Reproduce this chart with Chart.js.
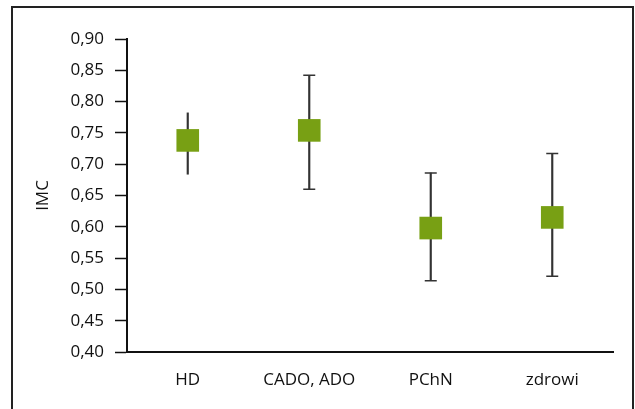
<!DOCTYPE html>
<html>
<head>
<meta charset="utf-8">
<script src="https://cdn.jsdelivr.net/npm/chart.js@4"></script>
<style>
  body { margin: 0; background: #fff; }
  #wrap { position: relative; width: 635px; height: 409px; overflow: hidden; }
  #frame { position: absolute; left: 11px; top: 6px; width: 619px; height: 420px;
           border: 2px solid #222; border-bottom: none; pointer-events: none; }
  canvas { position: absolute; left: 0; top: 0; }
</style>
</head>
<body>
<div id="wrap">
  <canvas id="chart" width="635" height="409"></canvas>
  <div id="frame"></div>
</div>
<script>
const categories = ["HD", "CADO, ADO", "PChN", "zdrowi"];
const means = [0.738, 0.754, 0.598, 0.615];
const lower = [0.684, 0.660, 0.514, 0.521];
const upper = [0.782, 0.842, 0.686, 0.717];
const hasCaps = [false, true, true, true];

const font = { family: "'Open Sans', sans-serif", size: 17 };
const ink = "#111";

//whisker ranges as thin floating bars
const ranges = lower.map((lo, i) => [lo, upper[i]]);
const capTop = upper.map((v, i) => (hasCaps[i] ? v : null));
const capBottom = lower.map((v, i) => (hasCaps[i] ? v : null));

const capStyle = {
    type: "line",
    showLine: false,
    pointStyle: "line",
    pointRadius: 6,
    pointBorderWidth: 1.5,
    pointBorderColor: "#333",
    order: 1,
};

new Chart(document.getElementById("chart"), {
    type: "bar",
    data: {
        labels: categories,
        datasets: [
            {
                data: ranges,
                backgroundColor: "#333",
                barThickness: 1.5,
                order: 2,
            },
            { ...capStyle, data: capTop },
            { ...capStyle, data: capBottom },
            {
                type: "line",
                data: means,
                showLine: false,
                pointStyle: "rect",
                pointRadius: 16,
                pointBorderWidth: 0,
                pointBackgroundColor: "#78a014",
                order: 0,
            },
        ],
    },
    options: {
        responsive: false,
        animation: false,
        layout: { padding: { left: 0, right: 22, top: 39, bottom: 0 } },
        plugins: { legend: { display: false }, tooltip: { enabled: false } },
        scales: {
            x: {
                afterFit: (scale) => {
                    scale.height = 57;
                },
                grid: { display: false },
                border: { display: true, color: ink, width: 2 },
                ticks: { color: ink, font: font, padding: 10 },
            },
            y: {
                min: 0.4,
                max: 0.9,
                afterFit: (scale) => {
                    scale.width = 127;
                },
                grid: {
                    drawOnChartArea: false,
                    drawTicks: true,
                    tickLength: 12,
                    tickColor: ink,
                    tickWidth: 1.5,
                },
                border: { display: true, color: ink, width: 2 },
                ticks: {
                    stepSize: 0.05,
                    color: ink,
                    font: font,
                    padding: 11,
                    callback: (v) => v.toFixed(2).replace(".", ","),
                },
                title: {
                    display: true,
                    text: "IMC",
                    color: ink,
                    font: font,
                    padding: { top: 33, bottom: 0 },
                },
            },
        },
    },
});
</script>
</body>
</html>
